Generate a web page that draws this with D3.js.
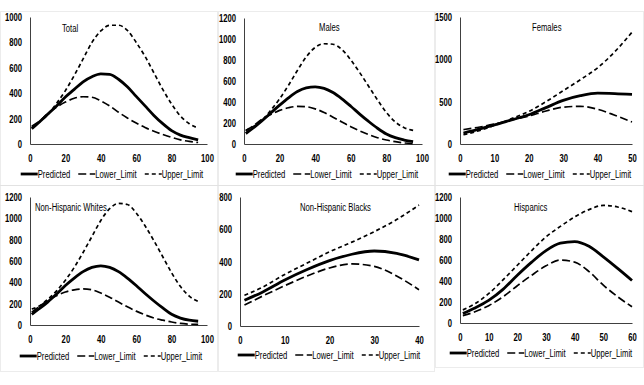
<!DOCTYPE html>
<html>
<head>
<meta charset="utf-8">
<script src="https://cdn.jsdelivr.net/npm/d3@7/dist/d3.min.js"></script>
<style>
  body { margin: 0; background: #fff; }
  svg text { font-family: "Liberation Sans", Arial, sans-serif; fill: #000; }
</style>
</head>
<body>
<svg id="chart" width="644" height="385"></svg>
<script>
// --- данные ---
const ageLong = [1, 5, 10, 15, 20, 25, 30, 35, 40, 45, 50, 55, 60, 65, 70, 75, 80, 85, 90, 95];

const totalPred  = [120, 170, 235, 300, 370, 430, 490, 530, 552, 548, 510, 450, 375, 300, 225, 160, 105, 70, 50, 33];
const totalLower = [140, 175, 240, 290, 330, 360, 372, 368, 340, 300, 250, 205, 165, 130, 100, 75, 52, 33, 20, 12];
const totalUpper = [130, 170, 230, 320, 420, 540, 670, 800, 890, 935, 935, 895, 800, 690, 560, 430, 315, 220, 160, 125];

const malePred  = [100, 150, 220, 295, 370, 440, 500, 535, 545, 530, 490, 430, 360, 285, 215, 150, 95, 60, 38, 22];
const maleLower = [125, 170, 235, 280, 320, 345, 358, 355, 335, 300, 255, 210, 165, 125, 90, 60, 38, 22, 10, 3];
const maleUpper = [130, 165, 225, 320, 430, 560, 700, 830, 920, 955, 950, 900, 800, 680, 550, 420, 300, 210, 155, 130];

const femaleAge   = [1, 5, 10, 15, 20, 25, 30, 35, 40, 45, 50];
const femalePred  = [130, 170, 225, 285, 345, 430, 515, 570, 600, 595, 585];
const femaleLower = [170, 195, 235, 285, 330, 390, 435, 445, 410, 340, 260];
const femaleUpper = [110, 150, 220, 300, 385, 500, 630, 760, 900, 1090, 1320];

const nhwPred  = [100, 150, 215, 290, 370, 440, 500, 540, 555, 540, 500, 440, 370, 295, 225, 160, 100, 65, 45, 35];
const nhwLower = [120, 170, 230, 275, 310, 330, 338, 330, 300, 260, 215, 170, 130, 95, 65, 45, 28, 15, 8, 5];
const nhwUpper = [150, 175, 240, 320, 420, 540, 680, 830, 980, 1090, 1140, 1130, 1050, 930, 790, 640, 490, 360, 270, 220];

const nhbAge   = [1, 5, 10, 15, 20, 25, 30, 35, 40];
const nhbPred  = [160, 210, 285, 350, 405, 445, 465, 450, 410];
const nhbLower = [130, 185, 250, 310, 360, 385, 370, 310, 225];
const nhbUpper = [190, 240, 320, 390, 460, 520, 585, 660, 750];

const hispAge   = [1, 5, 10, 15, 20, 25, 30, 35, 40, 45, 50, 55, 60];
const hispPred  = [90, 140, 215, 320, 455, 580, 690, 760, 775, 730, 630, 520, 405];
const hispLower = [70, 105, 165, 250, 355, 455, 545, 600, 580, 490, 360, 250, 155];
const hispUpper = [125, 180, 280, 410, 550, 690, 820, 920, 1010, 1080, 1120, 1105, 1060];

const ticks100 = [0, 20, 40, 60, 80, 100];
const ticks50 = [0, 10, 20, 30, 40, 50];
const ticks40 = [0, 10, 20, 30, 40];
const ticks60 = [0, 10, 20, 30, 40, 50, 60];
const yTicks1000 = [0, 200, 400, 600, 800, 1000];
const yTicks1200 = [0, 200, 400, 600, 800, 1000, 1200];
const yTicks1500 = [0, 500, 1000, 1500];
const yTicks800 = [0, 200, 400, 600, 800];

const seriesNames = ["Predicted", "Lower_Limit", "Upper_Limit"];

// --- раскладка панелей ---
const panels = [
  { title: "Total", age: ageLong, ys: [totalPred, totalLower, totalUpper], xTicks: ticks100, yTicks: yTicks1000,
    box: [0, 11, 218, 185], plot: [30, 207, 17, 144], titleAt: [62, 28], legend: [112, 174] },
  { title: "Males", age: ageLong, ys: [malePred, maleLower, maleUpper], xTicks: ticks100, yTicks: yTicks1200,
    box: [218, 11, 435, 185], plot: [244, 422, 18, 144], titleAt: [319, 27], legend: [327, 174] },
  { title: "Females", age: femaleAge, ys: [femalePred, femaleLower, femaleUpper], xTicks: ticks50, yTicks: yTicks1500,
    box: [435, 11, 644, 185], plot: [460, 632, 17, 144], titleAt: [532, 27], legend: [540, 174] },
  { title: "Non-Hispanic Whites", age: ageLong, ys: [nhwPred, nhwLower, nhwUpper], xTicks: ticks100, yTicks: yTicks1200,
    box: [0, 185, 218, 371], plot: [30, 207, 197, 325], titleAt: [35, 207], legend: [111, 356] },
  { title: "Non-Hispanic Blacks", age: nhbAge, ys: [nhbPred, nhbLower, nhbUpper], xTicks: ticks40, yTicks: yTicks800,
    box: [218, 185, 435, 371], plot: [240, 419, 197, 326], titleAt: [300, 207], legend: [329, 355] },
  { title: "Hispanics", age: hispAge, ys: [hispPred, hispLower, hispUpper], xTicks: ticks60, yTicks: yTicks1200,
    box: [435, 185, 644, 367], plot: [460, 632, 197, 323], titleAt: [514, 207], legend: [541, 353] },
];

// стиль линий: сплошная толстая, длинный штрих, короткий штрих
const lineStyles = [
  { width: 2.8, dash: null },
  { width: 1.7, dash: "8,3.5" },
  { width: 1.7, dash: "4,3" },
];

// узкий шрифт, как в Excel: сжимаем текст по горизонтали
const NARROW = 0.7;
const FONT = 11;
function narrow(sel) {
  sel.each(function () {
    const t = d3.select(this);
    const x0 = +t.attr("x") || 0;
    t.attr("x", x0 / NARROW).attr("transform", `scale(${NARROW},1)`);
  });
  return sel;
}

const svg = d3.select("#chart");

panels.forEach((p) => {
  const g = svg.append("g");
  const [left, right, top, bottom] = p.plot;

  // рамка панели
  g.append("rect")
    .attr("x", p.box[0] + 0.5).attr("y", p.box[1] + 0.5)
    .attr("width", p.box[2] - p.box[0] - 1).attr("height", p.box[3] - p.box[1])
    .attr("fill", "none").attr("stroke", "#d9d9d9").attr("stroke-dasharray", "1,1");

  const x = d3.scaleLinear().domain([0, d3.max(p.xTicks)]).range([left, right]);
  const y = d3.scaleLinear().domain([0, d3.max(p.yTicks)]).range([bottom, top]);

  const yAxis = g.append("g")
    .attr("transform", `translate(${left},0)`)
    .call(d3.axisLeft(y).tickValues(p.yTicks).tickFormat(d3.format("d")).tickSize(0).tickPadding(8));
  const xAxis = g.append("g")
    .attr("transform", `translate(0,${bottom})`)
    .call(d3.axisBottom(x).tickValues(p.xTicks).tickFormat(d3.format("d")).tickSize(0).tickPadding(10));
  [yAxis, xAxis].forEach((a) => {
    a.select(".domain").attr("stroke", "#404040").attr("stroke-width", 1);
    a.selectAll("text").attr("font-size", FONT).attr("font-weight", "bold").attr("fill", "#000");
    narrow(a.selectAll("text"));
  });

  const line = d3.line()
    .x((d) => x(d[0]))
    .y((d) => y(d[1]))
    .curve(d3.curveMonotoneX);

  // сначала границы, потом прогноз сверху
  [2, 1, 0].forEach((k) => {
    const pts = p.age.map((a, i) => [a, p.ys[k][i]]);
    g.append("path")
      .attr("d", line(pts))
      .attr("fill", "none")
      .attr("stroke", "#000")
      .attr("stroke-width", lineStyles[k].width)
      .attr("stroke-dasharray", lineStyles[k].dash);
  });

  narrow(g.append("text")
    .attr("x", p.titleAt[0]).attr("y", p.titleAt[1])
    .attr("dy", "0.35em")
    .attr("font-size", FONT)
    .text(p.title));

  // легенда
  const leg = g.append("g");
  let cx = 0;
  seriesNames.forEach((name, k) => {
    leg.append("line")
      .attr("x1", cx).attr("x2", cx + 17)
      .attr("y1", 0).attr("y2", 0)
      .attr("stroke", "#000")
      .attr("stroke-width", lineStyles[k].width)
      .attr("stroke-dasharray", lineStyles[k].dash);
    cx += 17;
    const t = leg.append("text")
      .attr("x", cx).attr("y", 0).attr("dy", "0.35em")
      .attr("font-size", FONT)
      .text(name);
    cx += t.node().getComputedTextLength() * NARROW + 8;
    narrow(t);
  });
  const w = cx - 8;
  leg.attr("transform", `translate(${p.legend[0] - w / 2},${p.legend[1]})`);
});
</script>
</body>
</html>
